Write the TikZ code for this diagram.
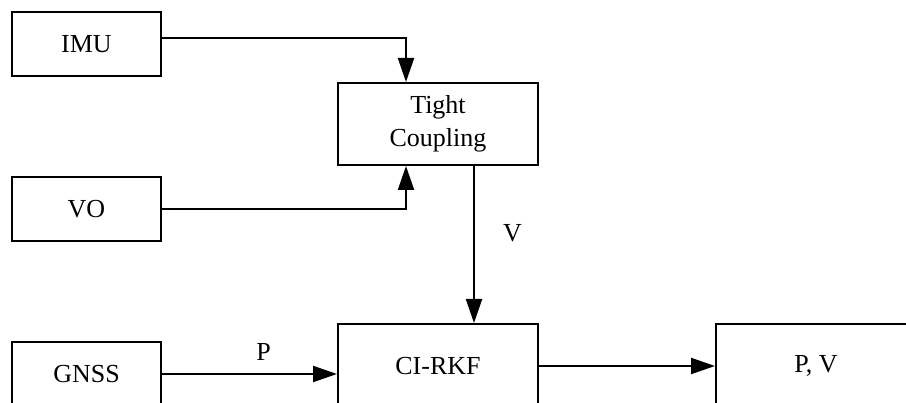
\documentclass[tikz,border=0pt]{standalone}
\usepackage{fontspec}
\setmainfont{Liberation Serif}
\usetikzlibrary{arrows.meta}
\begin{document}
\begin{tikzpicture}[x=1pt,y=-1pt,
  blk/.style={draw, line width=2pt, inner sep=0pt, align=center,
    font=\fontsize{26}{33}\selectfont},
  conn/.style={line width=2pt, -{Triangle[length=24pt,width=16pt]}},
  lbl/.style={font=\fontsize{26}{33}\selectfont, inner sep=0pt}]
\useasboundingbox (0,0) rectangle (906,403);
\fill[white] (0,0) rectangle (906,403);
\clip (0,0) rectangle (906,403);
\node[blk, minimum width=149pt, minimum height=64pt] (imu) at (86.5,44) {IMU};
\node[blk, minimum width=149pt, minimum height=64pt] (vo) at (86.5,209) {VO};
\node[blk, minimum width=149pt, minimum height=64pt] (gnss) at (86.5,374) {GNSS};
\node[blk, minimum width=200pt, minimum height=82pt] (tc) at (438,124) {Tight\\Coupling};
\node[blk, minimum width=200pt, minimum height=84pt] (ci) at (438,366) {CI-RKF};
\node[blk, minimum width=200pt, minimum height=84pt] (pv) at (816,366) {P, V};
\draw[conn] ([yshift=6pt]imu.east) -| ([xshift=-32pt]tc.north);
\draw[conn] (vo.east) -| ([xshift=-32pt]tc.south);
\draw[conn] ([xshift=36pt]tc.south) -- node[lbl, pos=0.43, anchor=west, xshift=28pt] (vl) {V} ([xshift=36pt]ci.north);
\draw[conn] (gnss.east) -- node[lbl, pos=0.58, anchor=south, yshift=12pt] (pl) {P} (gnss.east -| ci.west);
\draw[conn] (ci.east) -- (pv.west);
\end{tikzpicture}
\end{document}
